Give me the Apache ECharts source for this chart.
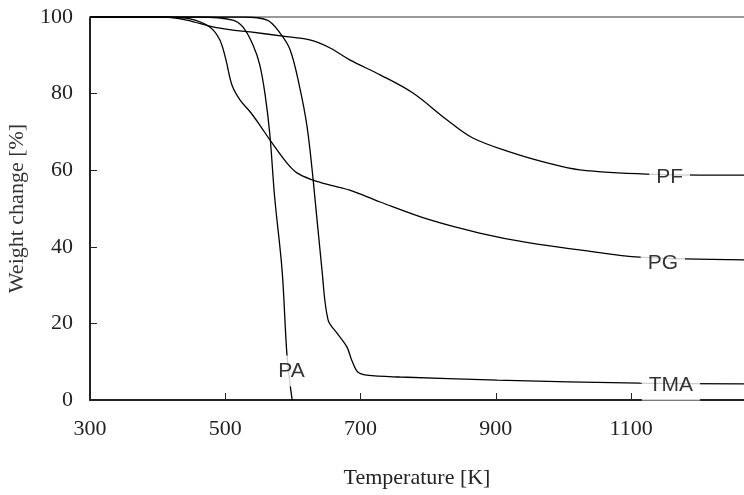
<!DOCTYPE html>
<html>
<head>
<meta charset="utf-8">
<script src="https://cdn.jsdelivr.net/npm/echarts@6/dist/echarts.min.js"></script>
<style>
  html, body { margin: 0; padding: 0; background: #fff; }
  #main { width: 744px; height: 495px; }
</style>
</head>
<body>
<div id="main"></div>
<script>
var xTicks = [300, 500, 700, 900, 1100];

// [temperature K, weight %]
var pf = [[300, 100], [410, 100], [443, 99.2], [482, 97.4], [511, 96.6], [537, 96.1], [585, 95.0],
    [625, 94.0], [655, 91.9], [684, 88.8], [729, 84.9], [777, 80.2], [828, 73.1], [866, 68.4],
    [925, 64.5], [976, 61.9], [1024, 60.1], [1123, 59.0], [1267, 58.7]];
var pg = [[300, 100], [411, 100], [448, 99.5], [477, 97.4], [492, 94.0], [501, 88.8], [510, 82.2],
    [522, 78.3], [537, 75.2], [551, 71.8], [566, 67.9], [591, 61.9], [606, 59.3], [630, 57.4],
    [655, 56.1], [684, 54.8], [729, 51.7], [803, 47.0], [876, 43.6], [950, 41.0], [1024, 39.2],
    [1113, 37.3], [1267, 36.6]];
var pa = [[300, 100], [463, 100], [511, 99.2], [526, 97.4], [541, 92.7], [551, 87.5], [559, 79.6],
    [566, 69.2], [573, 53.0], [584, 33.9], [591, 12.3], [596, 3.9], [599, 0]];
var tma = [[300, 100], [526, 100], [562, 99.2], [581, 95.8], [596, 91.4], [610, 81.7], [621, 71.3],
    [630, 57.4], [643, 33.9], [652, 20.9], [665, 17.5], [680, 13.8], [687, 10.4], [696, 7.3],
    [709, 6.5], [758, 6.0], [902, 5.2], [1113, 4.4], [1267, 4.2]];

var labelNames = ['PF', 'PG', 'TMA', 'PA'];
var labelT = [1157, 1147, 1159, 598];
var labelW = [58.2, 35.8, 3.9, 7.6];

var chart = echarts.init(document.getElementById('main'));

function curve(name, data) {
    return {
        name: name,
        type: 'line',
        data: data,
        smooth: 0.35,
        symbol: 'none',
        lineStyle: { color: '#000', width: 1.3 },
        z: 2
    };
}

var labelData = labelNames.map(function (n, i) {
    return { name: n, value: [labelT[i], labelW[i]] };
});

var option = {
    animation: false,
    backgroundColor: '#fff',
    grid: { left: 90, right: 0, top: 17, bottom: 95, outerBoundsMode: 'none' },
    xAxis: [{
        type: 'value',
        min: 300,
        max: 1267,
        name: 'Temperature [K]',
        nameLocation: 'middle',
        nameGap: 67,
        nameTextStyle: { fontFamily: 'Liberation Serif', fontSize: 22, color: '#222' },
        axisLine: { lineStyle: { color: '#222', width: 2 } },
        axisTick: { inside: true, length: 7, customValues: xTicks, lineStyle: { color: '#222' } },
        axisLabel: {
            customValues: xTicks, margin: 18,
            formatter: function (v) { return String(v); },
            fontFamily: 'Liberation Serif', fontSize: 22, color: '#222'
        },
        splitLine: { show: false }
    }, {
        type: 'value',
        position: 'top',
        min: 300,
        max: 1267,
        axisLine: { show: true, lineStyle: { color: '#999', width: 2 } },
        axisTick: { show: false },
        axisLabel: { show: false },
        splitLine: { show: false }
    }],
    yAxis: {
        type: 'value',
        min: 0,
        max: 100,
        interval: 20,
        name: 'Weight change [%]',
        nameLocation: 'middle',
        nameRotate: 90,
        nameGap: 62,
        nameTextStyle: { fontFamily: 'Liberation Serif', fontSize: 22, color: '#333' },
        axisLine: { show: true, lineStyle: { color: '#222', width: 2 } },
        axisTick: { show: true, inside: true, length: 7, lineStyle: { color: '#222' } },
        axisLabel: { margin: 17, fontFamily: 'Liberation Serif', fontSize: 22, color: '#222' },
        splitLine: { show: false }
    },
    series: [
        curve('PF', pf),
        curve('PG', pg),
        curve('PA', pa),
        curve('TMA', tma),
        {
            type: 'scatter',
            data: labelData,
            symbolSize: 0,
            z: 5,
            label: {
                show: true,
                position: 'inside',
                formatter: '{b}',
                fontFamily: 'Liberation Sans',
                fontSize: 21,
                color: '#000',
                textBorderWidth: 0,
                backgroundColor: '#fff',
                padding: [6, 7, 4, 7]
            }
        }
    ]
};

chart.setOption(option);
</script>
</body>
</html>
